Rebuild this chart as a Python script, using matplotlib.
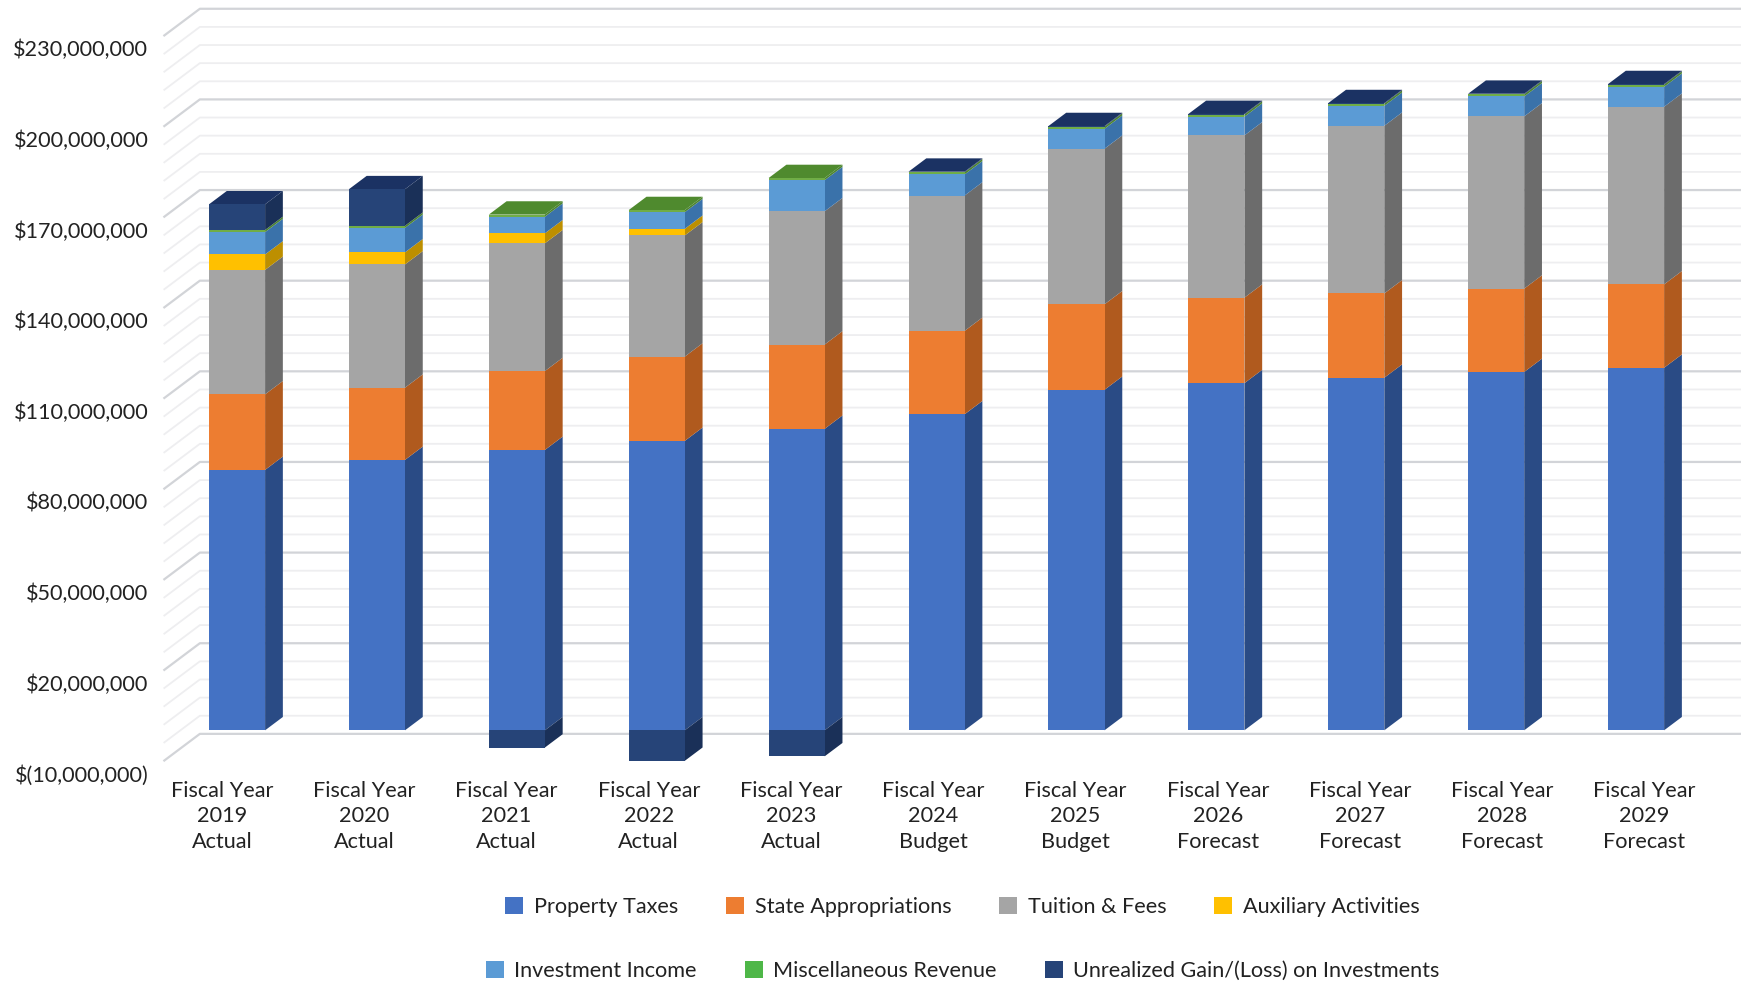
import matplotlib
matplotlib.use("Agg")
import matplotlib.pyplot as plt
from matplotlib.patches import Patch
import numpy as np

plt.rcParams['font.family'] = ['Lato', 'DejaVu Sans']

# ---- data ----
years = ['Fiscal Year\n2019\nActual', 'Fiscal Year\n2020\nActual', 'Fiscal Year\n2021\nActual',
         'Fiscal Year\n2022\nActual', 'Fiscal Year\n2023\nActual', 'Fiscal Year\n2024\nBudget',
         'Fiscal Year\n2025\nBudget', 'Fiscal Year\n2026\nForecast', 'Fiscal Year\n2027\nForecast',
         'Fiscal Year\n2028\nForecast', 'Fiscal Year\n2029\nForecast']
property_taxes = [86.2, 89.5, 92.8, 95.8, 99.8, 104.6, 112.7, 114.9, 116.7, 118.6, 120.0]
state_approp = [25.0, 23.9, 26.1, 27.9, 27.9, 27.6, 28.3, 28.3, 27.9, 27.6, 27.6]
tuition_fees = [41.2, 40.8, 42.3, 40.1, 44.1, 44.8, 51.5, 53.7, 55.5, 57.0, 58.8]
auxiliary = [5.1, 4.0, 3.3, 2.2, 0, 0, 0, 0, 0, 0, 0]
investment = [7.4, 8.1, 5.5, 5.5, 10.3, 7.0, 6.6, 6.2, 6.6, 6.6, 6.6]
misc_revenue = [0.7, 0.7, 0.7, 0.7, 0.7, 0.7, 0.7, 0.7, 0.7, 0.7, 0.7]
unrealized = [8.5, 12.1, -5.7, -10.1, -8.6, 0.2, 0.2, 0.2, 0.2, 0.2, 0.2]
series_names = ['Property Taxes', 'State Appropriations', 'Tuition & Fees', 'Auxiliary Activities',
                'Investment Income', 'Miscellaneous Revenue', 'Unrealized Gain/(Loss) on Investments']
front_cols = ['#4472C4', '#ED7D31', '#A5A5A5', '#FFC000', '#5B9BD5', '#70AD47', '#264478']
side_cols = ['#2A4B85', '#B05A1E', '#6C6C6C', '#BD8F00', '#3A72AA', '#4C8430', '#1A3058']
top_cols = ['#33568F', '#B96020', '#7D7D7D', '#C99A00', '#41719F', '#4F8A2E', '#1B3263']
legend_cols = ['#4472C4', '#ED7D31', '#A5A5A5', '#FFC000', '#5B9BD5', '#4EB748', '#264478']
ytick_vals = [-10, 20, 50, 80, 110, 140, 170, 200, 230]
ytick_labels = ['$(10,000,000)', '$20,000,000', '$50,000,000', '$80,000,000', '$110,000,000',
                '$140,000,000', '$170,000,000', '$200,000,000', '$230,000,000']

W, H = 1568.0, 885.0
FONT = 15.6
fig = plt.figure(figsize=(17.41, 9.83), dpi=100)

def axes_box(left, right, ptop, pbot):
    return [left / W, 1 - pbot / H, (right - left) / W, (pbot - ptop) / H]

# --- scale helpers (shrunk px) ---
k = 30.0 / 81.6            # millions per px
x0, step, bw_px = 213.5, 126.0, 50.5
base_py = 657.5

ax = fig.add_axes(axes_box(148, W, 0, 696))
ax.set_xlim((148 - x0) / step, (W - x0) / step)
ax.set_ylim((base_py - 696) * k, base_py * k)
ax.axis('off')

# walls
wall_dx, wall_dy = 32 / step, 24 * k
minor = np.arange(-10, 230.1, 6)
for v in minor:
    is_major = abs(((v + 10) / 30) - round((v + 10) / 30)) < 1e-6
    col = '#d2d4d8' if is_major else '#eeeef0'
    lw = 1.6 if is_major else 1.3
    xa = [ax.get_xlim()[0], ax.get_xlim()[0] + wall_dx, ax.get_xlim()[1]]
    ya = [v, v + wall_dy, v + wall_dy]
    ax.plot(xa, ya, color=col, lw=lw, zorder=1 if not is_major else 1.5, clip_on=False)

# bars
bw = bw_px / step
dx, dy = 16 / step, 12 * k
stack = [property_taxes, state_approp, tuition_fees, auxiliary, investment, misc_revenue, unrealized]
xs = np.arange(len(years))
pos = np.zeros(len(years))
tops = np.zeros(len(years))
topcol = [None] * len(years)
for s, vals in enumerate(stack):
    vals = np.array(vals, float)
    bottoms = np.where(vals >= 0, pos, 0.0)
    ax.bar(xs, vals, width=bw, bottom=bottoms, color=front_cols[s], zorder=5, linewidth=0)
    for i in xs:
        v = vals[i]
        if v == 0:
            continue
        b, t = (bottoms[i], bottoms[i] + v)
        xr = i + bw / 2
        ax.fill([xr, xr + dx, xr + dx, xr], [b, b + dy, t + dy, t],
                color=side_cols[s], zorder=4, linewidth=0)
        if v > 0:
            topcol[i] = top_cols[s]
            tops[i] = t
    pos = pos + np.where(vals > 0, vals, 0)
for i in xs:
    xl, xr = i - bw / 2, i + bw / 2
    t = tops[i]
    ax.fill([xl, xr, xr + dx, xl + dx], [t, t, t + dy, t + dy],
            color=topcol[i], zorder=4.5, linewidth=0)

# tick-label axes: labels are spaced and offset independently of the bars
lx0, lstep = 200.0, 128.1
lab = fig.add_axes(axes_box(148, W, 43.5, 696), facecolor='none')
lab.set_xlim((148 - lx0) / lstep, (W - lx0) / lstep)
lab.set_ylim(-10, 230)
for sp in lab.spines.values():
    sp.set_visible(False)
lab.set_xticks(xs)
lab.set_xticklabels(years, fontsize=FONT, color='#222222', linespacing=1.36)
lab.set_yticks(ytick_vals)
lab.set_yticklabels(ytick_labels, fontsize=FONT, color='#222222')
lab.tick_params(axis='y', length=0, pad=11.5)
lab.tick_params(axis='x', length=0, pad=5.5)

# legends: two centred rows
def row(idx, py):
    handles = [Patch(facecolor=legend_cols[j], edgecolor='none', label=series_names[j]) for j in idx]
    leg = fig.legend(handles=handles, loc='center', bbox_to_anchor=(867 / W, 1 - py / H), ncol=len(idx),
                     frameon=False, fontsize=FONT, handlelength=0.83, handleheight=0.83,
                     handletextpad=0.5, columnspacing=2.2, labelcolor='#222222')
    return leg

row([0, 1, 2, 3], 816.5)
row([4, 5, 6], 874.5)

fig.savefig('out.png', dpi=100)
